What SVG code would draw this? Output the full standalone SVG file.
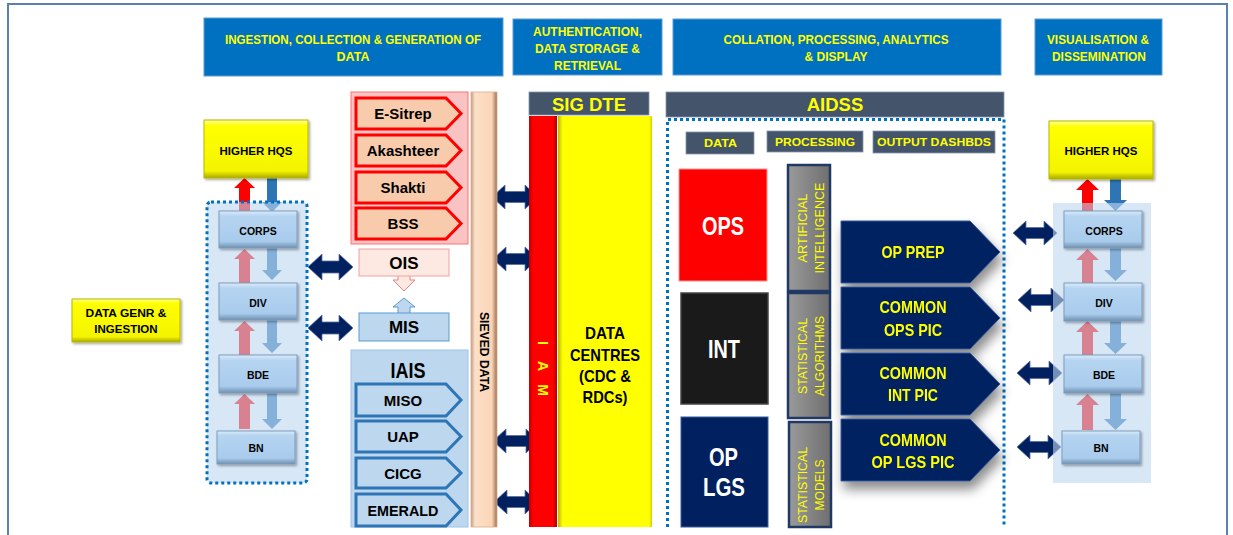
<svg xmlns="http://www.w3.org/2000/svg" width="1233" height="535" viewBox="0 0 1233 535">
<defs>
<linearGradient id="gBlue" x1="0" y1="0" x2="0" y2="1">
<stop offset="0" stop-color="#DCEBF9"/><stop offset="0.14" stop-color="#B5D4F1"/><stop offset="0.82" stop-color="#A9CBEC"/><stop offset="1" stop-color="#6E8FB0"/>
</linearGradient>
<linearGradient id="gYel" x1="0" y1="0" x2="0" y2="1">
<stop offset="0" stop-color="#FFFF9A"/><stop offset="0.1" stop-color="#FFFF00"/><stop offset="0.88" stop-color="#F4F400"/><stop offset="1" stop-color="#A8A800"/>
</linearGradient>
<linearGradient id="gSieve" x1="0" y1="0" x2="1" y2="0">
<stop offset="0" stop-color="#C79B7C"/><stop offset="0.15" stop-color="#FCE0CA"/><stop offset="0.8" stop-color="#FBD5B5"/><stop offset="1" stop-color="#9C6E52"/>
</linearGradient>
<linearGradient id="gRed" x1="0" y1="0" x2="1" y2="0">
<stop offset="0" stop-color="#C00000"/><stop offset="0.15" stop-color="#FF0000"/><stop offset="0.85" stop-color="#FF0000"/><stop offset="1" stop-color="#B00000"/>
</linearGradient>
<linearGradient id="gDC" x1="0" y1="0" x2="1" y2="0">
<stop offset="0" stop-color="#B8B800"/><stop offset="0.05" stop-color="#FFFF00"/><stop offset="0.97" stop-color="#FFFF00"/><stop offset="1" stop-color="#D0D000"/>
</linearGradient>
<linearGradient id="gGrey" x1="0" y1="0" x2="1" y2="0">
<stop offset="0" stop-color="#9A9A9A"/><stop offset="1" stop-color="#6F6F6F"/>
</linearGradient>
<filter id="sh" x="-10%" y="-10%" width="130%" height="140%">
<feDropShadow dx="1.5" dy="1.5" stdDeviation="1" flood-color="#000" flood-opacity="0.35"/>
</filter>
<filter id="bigsh" x="-10%" y="-20%" width="130%" height="160%">
<feDropShadow dx="3" dy="8" stdDeviation="6" flood-color="#000" flood-opacity="0.45"/>
</filter>
<style>
.hdr{fill:#0070C0;stroke:#5B9BD5;stroke-width:1}
.ht{font-family:"Liberation Sans",Arial,sans-serif;font-weight:bold;font-size:13px;fill:#FFFF00;text-anchor:middle}
.bar{fill:#44546A;stroke:#8497B0;stroke-width:0.8}
.bt{font-family:"Liberation Sans",Arial,sans-serif;font-weight:bold;fill:#FFFF00;text-anchor:middle}
.dot{fill:none;stroke:#0070C0;stroke-width:3;stroke-dasharray:3 3}
.lvl{fill:url(#gBlue);stroke:#7F9DBB;stroke-width:1}
.hq{fill:url(#gYel);stroke:#B8B800;stroke-width:1}
.lt{font-family:"Liberation Sans",Arial,sans-serif;font-weight:bold;fill:#000;text-anchor:middle}
.redp{fill:#F8CBAD;stroke:#FF0000;stroke-width:3}
.bluep{fill:#BDD7EE;stroke:#2E75B6;stroke-width:3}
.navy{fill:#002060;stroke:#3A5A9A;stroke-width:1}
.dbl{fill:#002060;stroke:#5A6F9A;stroke-width:0.8}
.rup{fill:#FF0000}
.bdn{fill:#2E75B6}
.ov{fill:#BED7F0;fill-opacity:0.6}
.yt{font-family:"Liberation Sans",Arial,sans-serif;fill:#FFFF00;text-anchor:middle}
.wt{font-family:"Liberation Sans",Arial,sans-serif;font-weight:bold;fill:#FFFFFF;text-anchor:middle}
.proc{fill:url(#gGrey);stroke:#1F3864;stroke-width:2.5}
</style>
</defs>

<rect x="8" y="4" width="1219" height="545" fill="#FFFFFF" stroke="#5B7FAF" stroke-width="2"/>

<g id="header-ingestion">
<rect class="hdr" x="204" y="18" width="299" height="58"/>
<text class="ht" x="353" y="43.5" textLength="256" lengthAdjust="spacingAndGlyphs">INGESTION, COLLECTION &amp; GENERATION OF</text>
<text class="ht" x="353" y="60.5" textLength="33" lengthAdjust="spacingAndGlyphs">DATA</text>
</g>
<g id="header-auth">
<rect class="hdr" x="513" y="19" width="149" height="56"/>
<text class="ht" x="587.5" y="35.5" textLength="109" lengthAdjust="spacingAndGlyphs">AUTHENTICATION,</text>
<text class="ht" x="587.5" y="52.5" textLength="105" lengthAdjust="spacingAndGlyphs">DATA STORAGE &amp;</text>
<text class="ht" x="587.5" y="69.5" textLength="67" lengthAdjust="spacingAndGlyphs">RETRIEVAL</text>
</g>
<g id="header-collation">
<rect class="hdr" x="673" y="19" width="328" height="56"/>
<text class="ht" x="836" y="43.5" textLength="225" lengthAdjust="spacingAndGlyphs">COLLATION, PROCESSING, ANALYTICS</text>
<text class="ht" x="836" y="60.5" textLength="63" lengthAdjust="spacingAndGlyphs">&amp; DISPLAY</text>
</g>
<g id="header-visual">
<rect class="hdr" x="1035" y="19" width="127" height="56"/>
<text class="ht" x="1098" y="43.5" textLength="102" lengthAdjust="spacingAndGlyphs">VISUALISATION &amp;</text>
<text class="ht" x="1099" y="60.5" textLength="94" lengthAdjust="spacingAndGlyphs">DISSEMINATION</text>
</g>

<g id="connectors">
<path class="rup" d="M239,211 L239,188 L234,188 L244.5,178 L255,188 L250,188 L250,211 Z"/>
<path class="bdn" d="M267,178 L277,178 L277,202 L282,202 L272,212 L262,202 L267,202 Z"/>
<path class="rup" d="M239,283 L239,259 L234,259 L244.5,249 L255,259 L250,259 L250,283 Z"/>
<path class="bdn" d="M267,248 L277,248 L277,270 L282,270 L272,280 L262,270 L267,270 Z"/>
<path class="rup" d="M239,355 L239,331 L234,331 L244.5,321 L255,331 L250,331 L250,355 Z"/>
<path class="bdn" d="M267,320 L277,320 L277,343 L282,343 L272,353 L262,343 L267,343 Z"/>
<path class="rup" d="M239,429 L239,404 L234,404 L244.5,394 L255,404 L250,404 L250,429 Z"/>
<path class="bdn" d="M267,393 L277,393 L277,419 L282,419 L272,429 L262,419 L267,419 Z"/>
<path class="rup" d="M1082,211 L1082,190 L1076,190 L1087.5,179 L1099,190 L1093,190 L1093,211 Z"/>
<path class="bdn" d="M1110,179 L1121,179 L1121,200 L1127,200 L1115.5,211 L1104,200 L1110,200 Z"/>
<path class="rup" d="M1082,283 L1082,260 L1076,260 L1087.5,249 L1099,260 L1093,260 L1093,283 Z"/>
<path class="bdn" d="M1110,248 L1121,248 L1121,270 L1127,270 L1115.5,281 L1104,270 L1110,270 Z"/>
<path class="rup" d="M1082,355 L1082,332 L1076,332 L1087.5,321 L1099,332 L1093,332 L1093,355 Z"/>
<path class="bdn" d="M1110,321 L1121,321 L1121,343 L1127,343 L1115.5,354 L1104,343 L1110,343 Z"/>
<path class="rup" d="M1082,430 L1082,405 L1076,405 L1087.5,394 L1099,405 L1093,405 L1093,430 Z"/>
<path class="bdn" d="M1110,393 L1121,393 L1121,419 L1127,419 L1115.5,430 L1104,419 L1110,419 Z"/>
<path class="dbl" d="M308,267 L322,254 L322,261 L339,261 L339,254 L353,267 L339,280 L339,273 L322,273 L322,280 Z"/>
<path class="dbl" d="M308,328 L322,315 L322,322 L339,322 L339,315 L353,328 L339,341 L339,334 L322,334 L322,341 Z"/>
<path class="dbl" d="M492,197 L505,185 L505,191.5 L525,191.5 L525,185 L538,197 L525,209 L525,202.5 L505,202.5 L505,209 Z"/>
<path class="dbl" d="M493,259 L506,247 L506,253.5 L525,253.5 L525,247 L538,259 L525,271 L525,264.5 L506,264.5 L506,271 Z"/>
<path class="dbl" d="M493,441 L506,429 L506,435.5 L526,435.5 L526,429 L539,441 L526,453 L526,446.5 L506,446.5 L506,453 Z"/>
<path class="dbl" d="M494,502 L507,490 L507,496.5 L525,496.5 L525,490 L538,502 L525,514 L525,507.5 L507,507.5 L507,514 Z"/>
<path class="dbl" d="M1013,233 L1026,221 L1026,227.5 L1044,227.5 L1044,221 L1057,233 L1044,245 L1044,238.5 L1026,238.5 L1026,245 Z"/>
<path class="dbl" d="M1018,300 L1031,288 L1031,294.5 L1051,294.5 L1051,288 L1064,300 L1051,312 L1051,305.5 L1031,305.5 L1031,312 Z"/>
<path class="dbl" d="M1017,373 L1030,361 L1030,367.5 L1049,367.5 L1049,361 L1062,373 L1049,385 L1049,378.5 L1030,378.5 L1030,385 Z"/>
<path class="dbl" d="M1017,447 L1030,435 L1030,441.5 L1048,441.5 L1048,435 L1061,447 L1048,459 L1048,452.5 L1030,452.5 L1030,459 Z"/>
<path d="M398,276 L398,280 L393,280 L404,291 L415,280 L410,280 L410,276" fill="#FDE9E1" stroke="#F08080" stroke-width="1"/>
<path d="M398,313 L398,307 L393,307 L404,298 L415,307 L410,307 L410,313" fill="#BDD7EE" stroke="#5B9BD5" stroke-width="1"/>
</g>

<g id="left-hierarchy">
<rect x="207" y="202" width="100" height="281" rx="4" class="ov"/>
<rect x="207" y="202" width="100" height="281" rx="4" class="dot"/>
</g>
<g id="right-hierarchy">
<rect x="1053" y="203" width="98" height="280" class="ov"/>
</g>

<g id="data-genr">
<rect x="72" y="299" width="108" height="43" class="hq" filter="url(#sh)"/>
<text class="lt" x="126" y="317" font-size="11.5" textLength="81" lengthAdjust="spacingAndGlyphs">DATA GENR &amp;</text>
<text class="lt" x="126" y="333" font-size="11.5">INGESTION</text>
</g>

<g id="higher-hqs-left">
<rect x="204" y="120" width="104" height="58" class="hq" filter="url(#sh)"/>
<text class="lt" x="256" y="155" font-size="11.5" textLength="73" lengthAdjust="spacingAndGlyphs">HIGHER HQS</text>
</g>
<g id="corps-left"><rect x="219" y="211" width="78" height="37" class="lvl" filter="url(#sh)"/><text class="lt" x="258" y="234.5" font-size="10.5">CORPS</text></g>
<g id="div-left"><rect x="219" y="283" width="78" height="37" class="lvl" filter="url(#sh)"/><text class="lt" x="258" y="306.5" font-size="10.5">DIV</text></g>
<g id="bde-left"><rect x="219" y="355" width="78" height="38" class="lvl" filter="url(#sh)"/><text class="lt" x="258" y="378.5" font-size="10.5">BDE</text></g>
<g id="bn-left"><rect x="217" y="431" width="78" height="33" class="lvl" filter="url(#sh)"/><text class="lt" x="256" y="451.5" font-size="10.5">BN</text></g>

<g id="higher-hqs-right">
<rect x="1049" y="121" width="104" height="58" class="hq" filter="url(#sh)"/>
<text class="lt" x="1101" y="155" font-size="11.5" textLength="73" lengthAdjust="spacingAndGlyphs">HIGHER HQS</text>
</g>
<g id="corps-right"><rect x="1064" y="211" width="78" height="37" class="lvl" filter="url(#sh)"/><text class="lt" x="1104" y="234.5" font-size="10.5">CORPS</text></g>
<g id="div-right"><rect x="1064" y="283" width="78" height="38" class="lvl" filter="url(#sh)"/><text class="lt" x="1104" y="306.5" font-size="10.5">DIV</text></g>
<g id="bde-right"><rect x="1064" y="355" width="78" height="38" class="lvl" filter="url(#sh)"/><text class="lt" x="1104" y="378.5" font-size="10.5">BDE</text></g>
<g id="bn-right"><rect x="1062" y="431" width="78" height="33" class="lvl" filter="url(#sh)"/><text class="lt" x="1101" y="451.5" font-size="10.5">BN</text></g>

<g id="red-systems">
<rect x="351" y="92" width="117" height="152" fill="#F9C3C3" stroke="#FF7070" stroke-width="1"/>
<path class="redp" d="M356,98 L446,98 L461,113.5 L446,129 L356,129 Z"/>
<path class="redp" d="M356,135 L446,135 L461,150.5 L446,166 L356,166 Z"/>
<path class="redp" d="M356,172 L446,172 L461,187.5 L446,203 L356,203 Z"/>
<path class="redp" d="M356,208 L446,208 L461,223.5 L446,239 L356,239 Z"/>
<text class="lt" x="403" y="119" font-size="15">E-Sitrep</text>
<text class="lt" x="403" y="156" font-size="15">Akashteer</text>
<text class="lt" x="403" y="193" font-size="15">Shakti</text>
<text class="lt" x="403" y="229" font-size="15">BSS</text>
</g>

<g id="ois">
<rect x="359" y="249" width="90" height="27" fill="#FDE9E1" stroke="#F4A0A0" stroke-width="1"/>
<text class="lt" x="404" y="269" font-size="17">OIS</text>
</g>
<g id="mis">
<rect x="359" y="313" width="90" height="28" fill="#BDD7EE" stroke="#5B9BD5" stroke-width="1"/>
<text class="lt" x="404" y="333" font-size="17">MIS</text>
</g>

<g id="iais">
<rect x="351" y="350" width="117" height="177" fill="#BDD7EE" stroke="#9DC3E6" stroke-width="1"/>
<text class="lt" x="408" y="378" font-size="22" textLength="35" lengthAdjust="spacingAndGlyphs">IAIS</text>
<path class="bluep" d="M356,384 L446,384 L461,400 L446,416 L356,416 Z"/>
<path class="bluep" d="M356,421 L446,421 L461,436.5 L446,452 L356,452 Z"/>
<path class="bluep" d="M356,458 L446,458 L461,473 L446,488 L356,488 Z"/>
<path class="bluep" d="M356,494 L446,494 L461,510 L446,526 L356,526 Z"/>
<text class="lt" x="403" y="405.5" font-size="15">MISO</text>
<text class="lt" x="403" y="442" font-size="15">UAP</text>
<text class="lt" x="403" y="478.5" font-size="15">CICG</text>
<text class="lt" x="403" y="515.5" font-size="15" textLength="71" lengthAdjust="spacingAndGlyphs">EMERALD</text>
</g>

<g id="sieved-data">
<rect x="471" y="92" width="26" height="435" fill="url(#gSieve)" stroke="#D8B090" stroke-width="0.8"/>
<text class="lt" transform="translate(484,352) rotate(90)" dy="4.5" font-size="12.5" textLength="80" lengthAdjust="spacingAndGlyphs">SIEVED DATA</text>
</g>

<g id="sig-dte">
<rect class="bar" x="529" y="92" width="120" height="23"/>
<text class="bt" x="589" y="110.5" font-size="18.5">SIG DTE</text>
</g>
<g id="iam">
<rect x="529" y="116" width="28" height="411" fill="url(#gRed)"/>
<text class="bt" transform="translate(542,343) rotate(90)" dy="4.5" font-size="14">I</text>
<text class="bt" transform="translate(542,366) rotate(90)" dy="4.5" font-size="14">A</text>
<text class="bt" transform="translate(542,390) rotate(90)" dy="4.5" font-size="14">M</text>
</g>
<g id="data-centres">
<rect x="558" y="116" width="94" height="411" fill="url(#gDC)"/>
<text class="lt" x="605" y="339" font-size="17" textLength="40" lengthAdjust="spacingAndGlyphs">DATA</text>
<text class="lt" x="605" y="361" font-size="17" textLength="70" lengthAdjust="spacingAndGlyphs">CENTRES</text>
<text class="lt" x="605" y="382" font-size="17" textLength="52" lengthAdjust="spacingAndGlyphs">(CDC &amp;</text>
<text class="lt" x="605" y="403" font-size="17" textLength="45" lengthAdjust="spacingAndGlyphs">RDCs)</text>
</g>

<g id="aidss">
<rect class="bar" x="666" y="92" width="338" height="25"/>
<text class="bt" x="835" y="110.5" font-size="18.5">AIDSS</text>
<path class="dot" d="M667.5,527 L667.5,119.5 L1004,119.5 L1004,527"/>
</g>

<g id="sub-data"><rect class="bar" x="686" y="132" width="68" height="22"/><text class="bt" x="720.5" y="147" font-size="11" textLength="33" lengthAdjust="spacingAndGlyphs">DATA</text></g>
<g id="sub-processing"><rect class="bar" x="767" y="131" width="96" height="21"/><text class="bt" x="815" y="145.5" font-size="11" textLength="80" lengthAdjust="spacingAndGlyphs">PROCESSING</text></g>
<g id="sub-output"><rect class="bar" x="873" y="131" width="122" height="22"/><text class="bt" x="934" y="146" font-size="11" textLength="114" lengthAdjust="spacingAndGlyphs">OUTPUT  DASHBDS</text></g>

<g id="ops"><rect x="679" y="169" width="88" height="112" fill="#FF0000" stroke="#FF9090" stroke-width="1"/><text class="wt" x="723" y="235" font-size="25" textLength="42" lengthAdjust="spacingAndGlyphs">OPS</text></g>
<g id="int"><rect x="681" y="293" width="87" height="111" fill="#1A1A1A" stroke="#444" stroke-width="1.5"/><text class="wt" x="724" y="358" font-size="25" textLength="32" lengthAdjust="spacingAndGlyphs">INT</text></g>
<g id="op-lgs"><rect x="681" y="417" width="87" height="110" fill="#002060" stroke="#3A5A9A" stroke-width="1"/><text class="wt" x="723.5" y="466" font-size="25" textLength="29" lengthAdjust="spacingAndGlyphs">OP</text><text class="wt" x="724" y="496" font-size="25" textLength="42" lengthAdjust="spacingAndGlyphs">LGS</text></g>

<g id="proc-ai"><rect class="proc" x="788" y="165" width="42" height="126"/>
<text class="yt" transform="translate(802,228) rotate(-90)" dy="4.5" font-size="12.5" textLength="69" lengthAdjust="spacingAndGlyphs">ARTIFICIAL</text>
<text class="yt" transform="translate(819,228) rotate(-90)" dy="4.5" font-size="12.5" textLength="91" lengthAdjust="spacingAndGlyphs">INTELLIGENCE</text></g>
<g id="proc-alg"><rect class="proc" x="788" y="293" width="42" height="125"/>
<text class="yt" transform="translate(802,356) rotate(-90)" dy="4.5" font-size="12.5" textLength="76" lengthAdjust="spacingAndGlyphs">STATISTICAL</text>
<text class="yt" transform="translate(819,356) rotate(-90)" dy="4.5" font-size="12.5" textLength="80" lengthAdjust="spacingAndGlyphs">ALGORITHMS</text></g>
<g id="proc-models"><rect class="proc" x="789" y="422" width="42" height="105"/>
<text class="yt" transform="translate(802,485) rotate(-90)" dy="4.5" font-size="12.5" textLength="76" lengthAdjust="spacingAndGlyphs">STATISTICAL</text>
<text class="yt" transform="translate(819,485) rotate(-90)" dy="4.5" font-size="12.5" textLength="51" lengthAdjust="spacingAndGlyphs">MODELS</text></g>

<g id="outputs" filter="url(#bigsh)">
<g id="out-op-prep"><path class="navy" d="M841,221 L970,221 L1000,252 L970,283 L841,283 Z"/>
<text class="bt" x="913" y="258" font-size="17" textLength="63" lengthAdjust="spacingAndGlyphs">OP PREP</text></g>
<g id="out-ops-pic"><path class="navy" d="M841,287 L970,287 L1000,318 L970,349 L841,349 Z"/>
<text class="bt" x="913" y="313" font-size="17" textLength="67" lengthAdjust="spacingAndGlyphs">COMMON</text>
<text class="bt" x="913" y="336" font-size="17" textLength="58" lengthAdjust="spacingAndGlyphs">OPS PIC</text></g>
<g id="out-int-pic"><path class="navy" d="M841,353 L970,353 L1000,384 L970,415 L841,415 Z"/>
<text class="bt" x="913" y="379" font-size="17" textLength="67" lengthAdjust="spacingAndGlyphs">COMMON</text>
<text class="bt" x="913" y="401" font-size="17" textLength="50" lengthAdjust="spacingAndGlyphs">INT PIC</text></g>
<g id="out-lgs-pic"><path class="navy" d="M841,419 L970,419 L1000,450 L970,481 L841,481 Z"/>
<text class="bt" x="913" y="446" font-size="17" textLength="67" lengthAdjust="spacingAndGlyphs">COMMON</text>
<text class="bt" x="913" y="468" font-size="17" textLength="83" lengthAdjust="spacingAndGlyphs">OP LGS PIC</text></g>
</g>
</svg>
